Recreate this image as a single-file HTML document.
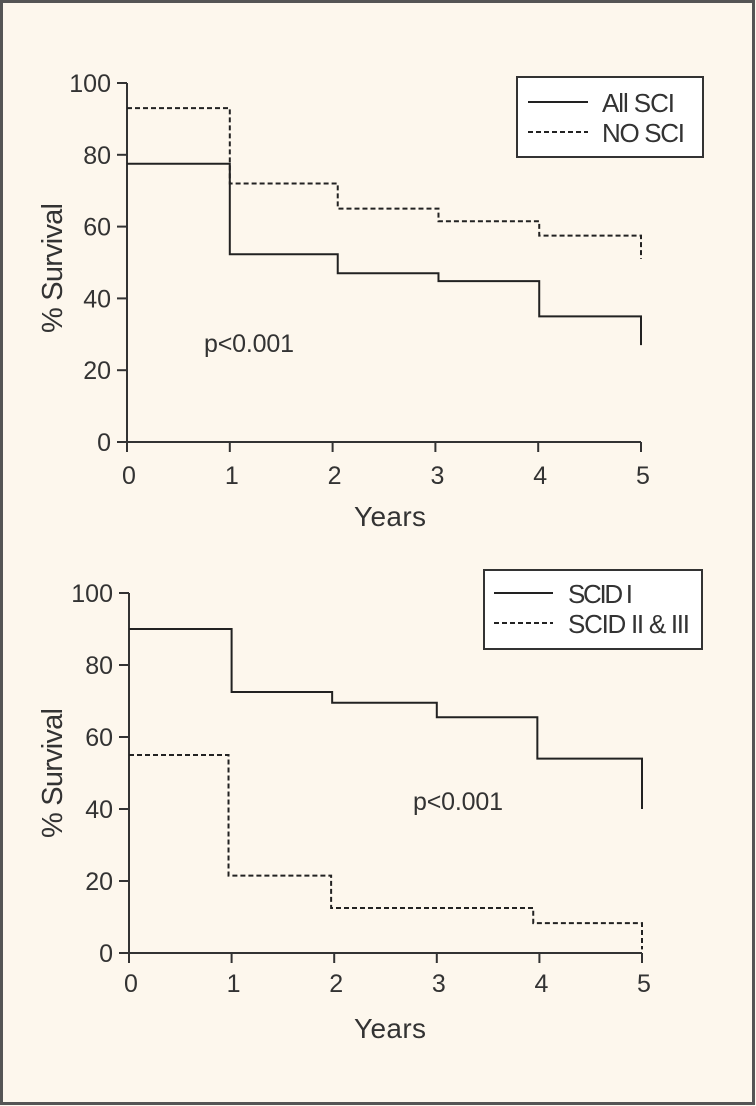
<!DOCTYPE html>
<html><head><meta charset="utf-8"><style>
html,body{margin:0;padding:0;background:#fdf7ed}
svg{display:block}
text{font-family:"Liberation Sans",sans-serif;fill:#333}
</style></head><body>
<svg id="fig" width="756" height="1106" viewBox="0 0 756 1106" xmlns="http://www.w3.org/2000/svg">
<rect x="1.5" y="1.5" width="752" height="1102" fill="#fdf7ed" stroke="#555" stroke-width="3"/>
<g id="c1"></g>
<g id="c2"></g>
</svg>
<script>
// Top chart data
const xTicks = [0,1,2,3,4,5];
const yTicks = [0,20,40,60,80,100];
const sciTimes = [0,1,2.05,3.03,4.01,5];
const sciAll = [77.5,52.3,47,44.8,35,27];
const sciNo = [93,72,65,61.5,57.5,51];
// Bottom chart data
const scidTimes = [0,1,1.98,3,3.98,5];
const scid1 = [90,72.5,69.5,65.5,54,40];
const scid23Times = [0,0.97,1.97,3.94,5];
const scid23 = [55,21.5,12.5,8.3,1];

const NS="http://www.w3.org/2000/svg";
function mk(parent,tag,attrs,txt){const e=document.createElementNS(NS,tag);for(const k in attrs)e.setAttribute(k,attrs[k]);if(txt!==undefined)e.textContent=txt;parent.appendChild(e);return e;}

function drawChart(g,cfg){
  const sx=v=>cfg.x0+(cfg.x5-cfg.x0)*v/5;
  const sy=v=>cfg.y0-(cfg.y0-cfg.y100)*v/100;
  const ax=mk(g,'path',{d:`M${sx(0)},${sy(100)}V${sy(0)}H${sx(5)}`,fill:'none',stroke:'#333','stroke-width':2});
  
  
  yTicks.forEach(v=>{
    const t=mk(g,'line',{x1:sx(0)-10,x2:sx(0),y1:sy(v),y2:sy(v),stroke:'#333','stroke-width':2});
    
    
    const l=mk(g,'text',{x:sx(0)-16,y:sy(v)+9,'font-size':25,'text-anchor':'end'},String(v));
    
    
  });
  xTicks.forEach(v=>{
    const t=mk(g,'line',{x1:sx(v),x2:sx(v),y1:sy(0),y2:sy(0)+10,stroke:'#333','stroke-width':2});
    
    
    const l=mk(g,'text',{x:sx(v)+2,y:cfg.xlabY,'font-size':25,'text-anchor':'middle'},String(v));
    
    
  });
  const xt=mk(g,'text',{x:390,y:cfg.xtitleY,'font-size':28,'text-anchor':'middle',textLength:72},'Years');
  
  
  const yt=mk(g,'text',{x:0,y:0,'font-size':29,'text-anchor':'middle',transform:`translate(62,${cfg.ytitleC}) rotate(-90)`,textLength:130},'% Survival');
  
  
  const p=mk(g,'text',{x:cfg.px,y:cfg.py,'font-size':25,textLength:90},'p<0.001');
  
  
  cfg.series.forEach(s=>{
    let d=`M${sx(s.t[0])},${sy(s.v[0])}`;
    for(let i=1;i<s.t.length;i++){d+=`H${sx(s.t[i])}V${sy(s.v[i])}`;}
    const a={d:d,fill:'none',stroke:'#222','stroke-width':2};
    if(s.dash)a['stroke-dasharray']='5,3';
    const pth=mk(g,'path',a);
    
    
  });
  const L=cfg.legend;
  const lg=mk(g,'g',{});
  
  
  mk(lg,'rect',{x:L.x,y:L.y,width:L.w,height:L.h,fill:'#fff',stroke:'#333','stroke-width':2});
  L.items.forEach((it,i)=>{
    const ly=L.y+L.ly[i];
    const ln=mk(lg,'line',{x1:L.lx1,x2:L.lx2,y1:ly,y2:ly,stroke:'#222','stroke-width':2,'stroke-dasharray':it.dash?'5,3':'none'});
    
    
    const tx=mk(lg,'text',{x:L.tx,y:ly+10,'font-size':26,textLength:it.w},it.label);
    
    
  });
}

drawChart(document.getElementById('c1'),{x0:127,x5:641,y0:442,y100:83,xlabY:484,xtitleY:526,ytitleC:268,px:204,py:352,
  series:[{name:'line-all-sci',t:sciTimes,v:sciAll,dash:false},{name:'line-no-sci',t:sciTimes,v:sciNo,dash:true}],
  legend:{x:517,y:77,w:186,h:80,lx1:528,lx2:588,tx:602,ly:[25,55],items:[{label:'All SCI',w:73,dash:false},{label:'NO SCI',w:83,dash:true}]}});
drawChart(document.getElementById('c2'),{x0:129,x5:642,y0:953,y100:593,xlabY:992,xtitleY:1038,ytitleC:773,px:413,py:810,
  series:[{name:'line-scid-1',t:scidTimes,v:scid1,dash:false},{name:'line-scid-2-3',t:scid23Times,v:scid23,dash:true}],
  legend:{x:484,y:570,w:218,h:79,lx1:494,lx2:553,tx:568,ly:[23,53],items:[{label:'SCID I',w:65,dash:false},{label:'SCID II & III',w:122,dash:true}]}});
</script>
</body></html>
